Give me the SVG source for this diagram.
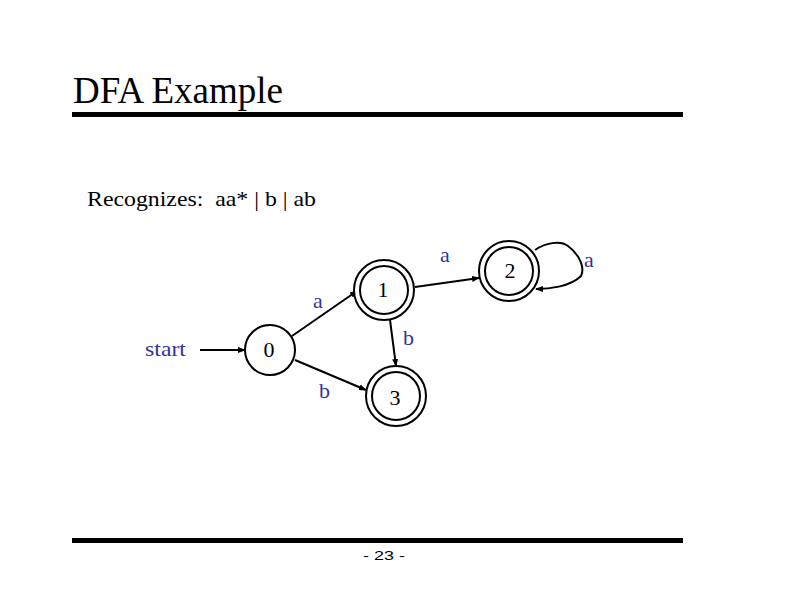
<svg xmlns="http://www.w3.org/2000/svg" width="792" height="612" viewBox="0 0 792 612">
<style>
.t{font-family:"Liberation Serif","Times New Roman",serif;fill:#000}
.lbl{font-family:"Liberation Serif","Times New Roman",serif;fill:#3333a0;font-size:22px}
.st{fill:#fff;stroke:#000;stroke-width:2}
.ed{fill:none;stroke:#000;stroke-width:2}
.num{font-family:"Liberation Serif","Times New Roman",serif;font-size:22px;fill:#000;text-anchor:middle}
</style>
<defs>
<marker id="ah" markerWidth="8" markerHeight="8" refX="7" refY="4" orient="auto" markerUnits="userSpaceOnUse">
<path d="M0,1 L8,4 L0,7 z" fill="#000"/>
</marker>
</defs>
<rect width="792" height="612" fill="#fff"/>
<text class="t" x="73" y="103" font-size="38" textLength="210" lengthAdjust="spacingAndGlyphs">DFA Example</text>
<rect x="72" y="112" width="611" height="5" fill="#000"/>
<text class="t" x="87" y="206" font-size="21" xml:space="preserve" textLength="229" lengthAdjust="spacingAndGlyphs">Recognizes:  aa* | b | ab</text>
<rect x="72" y="538" width="611" height="5" fill="#000"/>
<text x="363" y="560" font-family="Liberation Sans Narrow,Liberation Sans,sans-serif" font-size="12" fill="#000" textLength="42" lengthAdjust="spacingAndGlyphs">- 23 -</text>
<g id="connectors">
<line class="ed" x1="200" y1="350" x2="245" y2="350" marker-end="url(#ah)"/>
<line class="ed" x1="292" y1="336" x2="357" y2="291" marker-end="url(#ah)"/>
<line class="ed" x1="390" y1="320" x2="396" y2="366" marker-end="url(#ah)"/>
<line class="ed" x1="295" y1="360" x2="366" y2="390" marker-end="url(#ah)"/>
<line class="ed" x1="415" y1="287" x2="479" y2="278" marker-end="url(#ah)"/>
<path class="ed" d="M535,250 C545,243 560,240 568,246 C580,255 585,268 581,276 C570,287 548,289 536,289" marker-end="url(#ah)"/>
</g>
<text class="lbl" x="145" y="356" textLength="41" lengthAdjust="spacingAndGlyphs">start</text>
<text class="lbl" x="313" y="308">a</text>
<text class="lbl" x="403" y="345">b</text>
<text class="lbl" x="319" y="398">b</text>
<text class="lbl" x="440" y="262">a</text>
<text class="lbl" x="584" y="267">a</text>
<g id="s0"><circle class="st" cx="270" cy="350" r="25"/><text class="num" x="269" y="357">0</text></g>
<g id="s1"><circle class="st" cx="384" cy="290" r="30"/><circle class="st" cx="384" cy="290" r="24"/><text class="num" x="383" y="297">1</text></g>
<g id="s3"><circle class="st" cx="396" cy="396" r="30"/><circle class="st" cx="396" cy="396" r="24"/><text class="num" x="395" y="405">3</text></g>
<g id="s2"><circle class="st" cx="509" cy="271" r="30"/><circle class="st" cx="509" cy="271" r="24"/><text class="num" x="510" y="278">2</text></g>
</svg>
